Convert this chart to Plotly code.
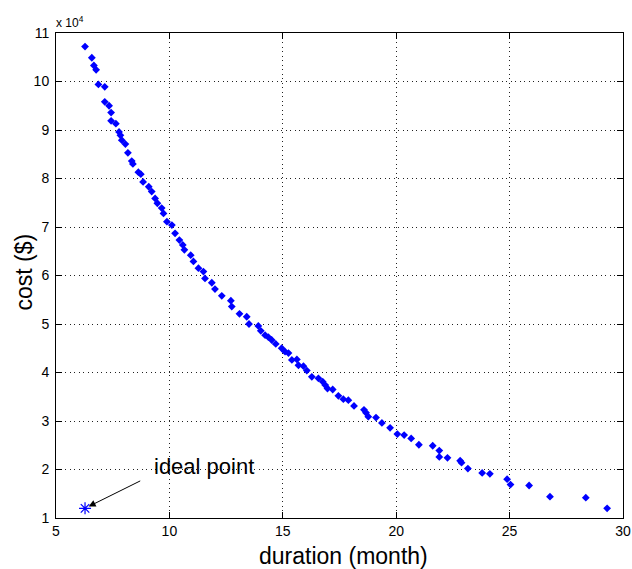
import plotly.graph_objects as go

duration = [6.28, 6.58, 6.67, 6.77, 6.87, 7.15, 7.15, 7.34, 7.43, 7.43, 7.64, 7.78, 7.84, 7.90,
            8.06, 8.17, 8.34, 8.39, 8.63, 8.74, 8.84, 9.09, 9.22, 9.37, 9.47, 9.66, 9.74, 9.89,
            10.11, 10.25, 10.44, 10.59, 10.66, 10.94, 11.06, 11.28, 11.50, 11.57, 11.87, 12.01,
            12.31, 12.71, 12.75, 13.09, 13.41, 13.51, 13.92, 14.03, 14.22, 14.36, 14.51, 14.69,
            14.95, 15.10, 15.25, 15.40, 15.62, 15.69, 15.91, 16.06, 16.28, 16.57, 16.76, 16.87,
            16.97, 17.20, 17.45, 17.67, 17.89, 18.14, 18.58, 18.67, 18.77, 19.11, 19.37, 19.73,
            20.05, 20.35, 20.66, 21.00, 21.61, 21.90, 21.90, 22.26, 22.82, 22.88, 23.16, 23.79,
            24.13, 24.89, 25.04, 25.86, 26.78, 28.36, 29.30]
cost = [107200, 104900, 103300, 102400, 99400, 98900, 95800, 95000, 93600, 91900, 91300, 89600,
        88900, 87900, 87100, 85300, 83600, 83000, 81300, 80900, 79300, 78300, 77300, 75900,
        74900, 73900, 72800, 71100, 70400, 68700, 67300, 66300, 65300, 64200, 62900, 61500,
        60800, 59400, 58500, 57200, 55800, 54800, 53600, 52100, 51500, 50000, 49600, 48600,
        47700, 47300, 46700, 45900, 45000, 44300, 44000, 42600, 42700, 41500, 41300, 40400,
        39100, 38800, 38100, 37400, 36700, 36500, 35200, 34500, 34300, 33100, 32300, 31700,
        30900, 30700, 29600, 28600, 27300, 27100, 26400, 25100, 24900, 23900, 22600, 22400,
        21800, 21400, 20200, 19300, 19100, 18000, 16900, 16700, 14400, 14200, 12000]

ideal_duration = [6.28]
ideal_cost = [12000]

x_ticks = [5, 10, 15, 20, 25, 30]
y_ticks = [10000, 20000, 30000, 40000, 50000, 60000, 70000, 80000, 90000, 100000, 110000]
y_ticklabels = ["1", "2", "3", "4", "5", "6", "7", "8", "9", "10", "11"]

FONT = "Liberation Sans, Arial, sans-serif"

fig = go.Figure()
fig.add_trace(go.Scatter(
    x=duration, y=cost, mode="markers",
    marker=dict(symbol="diamond", size=6, color="#0000ff", line=dict(width=0)),
    showlegend=False, cliponaxis=False))
fig.add_trace(go.Scatter(
    x=ideal_duration, y=ideal_cost, mode="markers",
    marker=dict(symbol="asterisk-open", size=10, color="#0000ff",
                line=dict(width=1.2, color="#0000ff")),
    showlegend=False, cliponaxis=False))

# arrow to the ideal point
fig.add_annotation(
    x=ideal_duration[0], y=ideal_cost[0], xref="x", yref="y",
    ax=8.78, ay=17800, axref="x", ayref="y",
    text="", showarrow=True, arrowhead=2, arrowsize=1.4, arrowwidth=1,
    arrowcolor="black", standoff=4)
# label
fig.add_annotation(
    x=9.22, y=20600, xref="x", yref="y", xanchor="left", yanchor="middle",
    text="ideal point", showarrow=False,
    font=dict(family=FONT, size=22, color="black"))

# exponent label
fig.add_annotation(
    x=0, y=1, xref="paper", yref="paper", xanchor="left", yanchor="bottom",
    text="x 10<sup>4</sup>", showarrow=False, yshift=1, xshift=-2,
    font=dict(family=FONT, size=12, color="black"))

# axis titles
fig.add_annotation(
    x=0.5, y=0, xref="paper", yref="paper", xanchor="center", yanchor="middle",
    text="duration (month)", showarrow=False, xshift=4, yshift=-38,
    font=dict(family=FONT, size=23, color="black"))
fig.add_annotation(
    x=0, y=0.5, xref="paper", yref="paper", xanchor="center", yanchor="middle",
    text="cost ($)", textangle=-90, showarrow=False, xshift=-33, yshift=3,
    font=dict(family=FONT, size=23, color="black"))

axis_common = dict(
    showgrid=True, gridcolor="#222222", griddash="1px,3.5px", gridwidth=1,
    showline=True, linecolor="black", linewidth=1, mirror="ticks",
    ticks="inside", ticklen=6, tickcolor="black", zeroline=False, automargin=False,
    tickfont=dict(family=FONT, size=14, color="black"),
)

fig.update_xaxes(range=[5, 30], tickvals=x_ticks, **axis_common)
fig.update_yaxes(range=[10000, 110000], tickvals=y_ticks, ticktext=y_ticklabels,
                 ticklabelstandoff=3, **axis_common)

fig.update_layout(
    width=632, height=569,
    margin=dict(l=56, r=9, t=33, b=51),
    plot_bgcolor="white", paper_bgcolor="white",
)

fig.write_html(
    "out.html",
    config={"displayModeBar": False},
    post_script="document.body.style.margin='0';document.body.style.overflow='hidden';",
)
